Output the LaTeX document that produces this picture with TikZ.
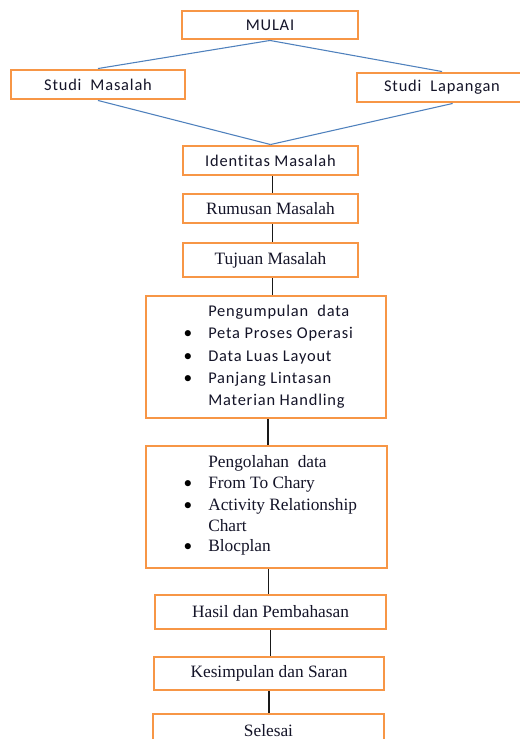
\documentclass[tikz,border=0pt]{standalone}
\usepackage{fontspec}
\setmainfont{Liberation Serif}
\newfontfamily\calib[LetterSpace=5,Ligatures={NoCommon,NoContextual}]{Carlito}
\definecolor{boxorange}{RGB}{247,150,70}
\definecolor{lineblue}{RGB}{79,129,189}
\definecolor{txt}{RGB}{20,20,40}
\begin{document}
\begin{tikzpicture}[x=0.75pt,y=-0.75pt,
  box/.style={draw=boxorange, line width=2.2pt, fill=white, inner sep=0pt, text=txt},
  sans/.style={font=\calib\fontsize{12.3}{14}\selectfont, text=txt},
  serif/.style={font=\fontsize{13}{15}\selectfont, text=txt},
  conn/.style={line width=1.4pt, draw=black!90},
  bline/.style={line width=0.8pt, draw=lineblue},
  bul/.style={font=\calib\fontsize{13}{14}\selectfont, text=black, anchor=base, inner sep=0pt},
  item/.style={anchor=base west, inner sep=0pt}]
\useasboundingbox (0,0) rectangle (520,739);
\clip (0,0) rectangle (520,739);
\fill[white] (0,0) rectangle (520,739);
% boxes
\node[box, sans, minimum width=132pt, minimum height=21pt] (mulai) at (270,25) {MULAI};
\node[box, sans, minimum width=130.5pt, minimum height=21.75pt] (sm) at (98,84.5) {Studi\ \ Masalah};
\node[box, sans, minimum width=127.5pt, minimum height=21.75pt] (sl) at (442,87.5) {Studi\ \ Lapangan};
\node[box, sans, minimum width=131.25pt, minimum height=21.75pt] (ident) at (270.5,160.5) {Identitas\ Masalah};
\node[box, serif, minimum width=131.25pt, minimum height=21.75pt] (rum) at (270.5,208.5) {Rumusan Masalah};
\node[box, serif, minimum width=131.25pt, minimum height=25.5pt] (tuj) at (270.5,260) {Tujuan\ Masalah};
\node[box, minimum width=180pt, minimum height=91.5pt] (peng) at (266,357) {};
\node[box, minimum width=180.75pt, minimum height=91.5pt] (olah) at (266.5,507) {};
\node[box, serif, minimum width=173.25pt, minimum height=25.5pt] (hasil) at (270.5,612) {Hasil dan Pembahasan};
\node[box, serif, minimum width=172.5pt, minimum height=24.75pt] (kes) at (269,673.5) {Kesimpulan\ dan Saran};
\node[box, serif, minimum width=173.25pt, minimum height=25.5pt] (sel) at (268.5,731) {Selesai};
% Pengumpulan data
\node[sans, item] (p0) at (208,316) {Pengumpulan\ \ data};
\node[bul] (pb1) at (188,338) {•};
\node[sans, item] (p1) at (208,338) {Peta Proses Operasi};
\node[bul] (pb2) at (188,361) {•};
\node[sans, item] (p2) at (208,361) {Data Luas Layout};
\node[bul] (pb3) at (188,383) {•};
\node[sans, item] (p3) at (208,383) {Panjang Lintasan};
\node[sans, item] (p4) at (208,405) {Materian Handling};
% Pengolahan data
\node[serif, item] (o0) at (208,467) {Pengolahan\ \ data};
\node[bul] (ob1) at (188,488) {•};
\node[serif, item] (o1) at (208,488) {From To Chary};
\node[bul] (ob2) at (188,510) {•};
\node[serif, item] (o2) at (208,510) {Activity Relationship};
\node[serif, item] (o3) at (208,531) {Chart};
\node[bul] (ob3) at (188,551) {•};
\node[serif, item] (o4) at (208,551) {Blocplan};
% connectors
\draw[bline] (mulai.south) -- (sm.north);
\draw[bline] (mulai.south) -- (sl.north);
\draw[bline] (sm.south) -- (ident.north);
\draw[bline] ([xshift=8pt]sl.south) -- (ident.north);
\draw[conn] ([xshift=1.5pt]ident.south) -- ([xshift=1.5pt]ident.south |- rum.north);
\draw[conn] ([xshift=1.5pt]rum.south) -- ([xshift=1.5pt]rum.south |- tuj.north);
\draw[conn] ([xshift=1.5pt]tuj.south) -- ([xshift=1.5pt]tuj.south |- peng.north);
\draw[conn] ([xshift=1.5pt]peng.south) -- ([xshift=1.5pt]peng.south |- olah.north);
\draw[conn] ([xshift=1.5pt]olah.south) -- ([xshift=1.5pt]olah.south |- hasil.north);
\draw[conn] (hasil.south) -- (hasil.south |- kes.north);
\draw[conn] (kes.south) -- (kes.south |- sel.north);
\end{tikzpicture}
\end{document}
